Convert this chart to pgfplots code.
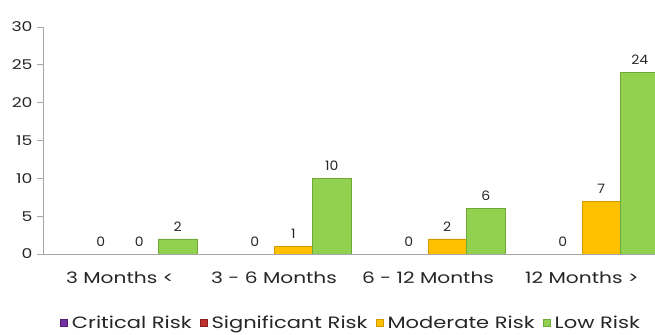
\documentclass[border=0pt]{standalone}
\usepackage{pgfplots}
\pgfplotsset{compat=1.18}
\usepackage{fontspec}
\setmainfont{Poppins}
\newfontfamily\wide[FakeStretch=1.28]{Poppins}
\newfontfamily\semi[FakeStretch=1.08]{Poppins}
\definecolor{crit}{HTML}{7030A0}
\definecolor{sig}{HTML}{C0302F}
\definecolor{mod}{HTML}{FFC000}
\definecolor{modd}{HTML}{D39A00}
\definecolor{low}{HTML}{92D050}
\definecolor{lowd}{HTML}{6FA838}
\definecolor{axgray}{HTML}{A6A6A6}
\begin{document}
\begin{tikzpicture}
\useasboundingbox (-43bp,-81bp) rectangle (612bp,254bp);
\begin{axis}[
  scale only axis,
  width=616bp, height=227bp,
  ybar=0pt, bar width=38.5bp,
  xmin=-0.5, xmax=3.5,
  ymin=0, ymax=30,
  ytick={0,5,...,30},
  xtick={0,1,2,3},
  xticklabels={3 Months <, 3 - 6 Months, 6 - 12 Months, 12 Months >},
  axis lines*=left,
  axis line style={axgray, line width=0.8bp},
  x axis line style={-},
  y axis line style={-},
  axis on top,
  major x tick style={draw=none},
  major y tick style={axgray, line width=0.8bp},
  tick align=outside,
  major tick length=6bp,
  /pgf/number format/assume math mode=true,
  yticklabel style={font=\wide\fontsize{13.5}{13.5}\selectfont, text=black!85, xshift=-1bp},
  xticklabel style={font=\wide\fontsize{15.8}{15.8}\selectfont, text=black!85, yshift=-8bp},
  nodes near coords,
  every node near coord/.append style={font=\semi\fontsize{13}{13}\selectfont, text=black!85, yshift=4bp},
  legend columns=4,
  legend style={draw=none, at={(0.5,0)}, xshift=0bp, yshift=-69bp, anchor=center, font=\wide\fontsize{16.5}{16.5}\selectfont, text=black!85,
    /tikz/every odd column/.append style={column sep=2.5bp},
    /tikz/every even column/.append style={column sep=6bp}},
  legend cell align=left,
]
\addplot[fill=crit, draw=none, nodes near coords={},
  legend image code/.code={\draw[fill=crit, draw=crit!70!black] (0bp,-3.5bp) rectangle (7bp,3.5bp);}]
  coordinates {(0,0) (1,0) (2,0) (3,0)};
\addlegendentry{Critical Risk}
\addplot[fill=sig, draw=none,
  legend image code/.code={\draw[fill=sig, draw=sig!70!black] (0bp,-3.5bp) rectangle (7bp,3.5bp);}]
  coordinates {(0,0) (1,0) (2,0) (3,0)};
\addlegendentry{Significant Risk}
\addplot[fill=mod, draw=modd, line width=0.6bp,
  legend image code/.code={\draw[fill=mod, draw=modd] (0bp,-3.5bp) rectangle (7bp,3.5bp);}]
  coordinates {(0,0) (1,1) (2,2) (3,7)};
\addlegendentry{Moderate Risk}
\addplot[fill=low, draw=lowd, line width=0.6bp,
  legend image code/.code={\draw[fill=low, draw=lowd] (0bp,-3.5bp) rectangle (7bp,3.5bp);}]
  coordinates {(0,2) (1,10) (2,6) (3,24)};
\addlegendentry{Low Risk}
\end{axis}
\end{tikzpicture}
\end{document}
